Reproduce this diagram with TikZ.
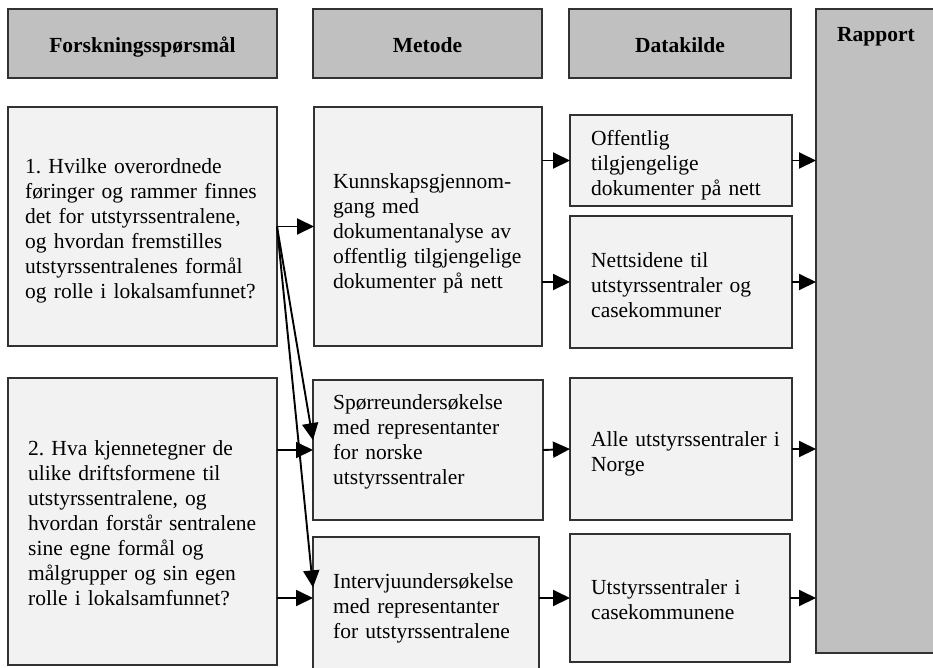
\documentclass[tikz,border=0pt]{standalone}
\usepackage{fontspec}
\setmainfont{Liberation Serif}
\usetikzlibrary{arrows.meta,calc}
\definecolor{hdr}{RGB}{192,192,192}
\definecolor{cell}{RGB}{242,242,242}
\definecolor{edge}{RGB}{50,50,50}
\frenchspacing
\begin{document}
\frenchspacing
\begin{tikzpicture}[x=1pt,y=-1pt,
  box/.style={draw=edge,line width=1.4pt,inner sep=0pt,outer sep=0pt,anchor=north west},
  hbox/.style={box,fill=hdr},
  cbox/.style={box,fill=cell},
  txt/.style={anchor=base west,align=left,text width=280pt,inner sep=0pt,font=\fontsize{21.5}{25}\selectfont},
  htxt/.style={inner sep=0pt,anchor=base,font=\fontsize{21.5}{25}\selectfont\bfseries},
  arr/.style={line width=1.9pt,-{Triangle[length=17pt,width=16pt]}}]
\useasboundingbox (0,0) rectangle (933,667);
\clip (0,0) rectangle (933,667);
% header boxes
\node[hbox,minimum width=269pt,minimum height=69pt] (h1) at (8,9) {};
\node[hbox,minimum width=229pt,minimum height=69pt] (h2) at (313,9) {};
\node[hbox,minimum width=222pt,minimum height=69pt] (h3) at (569,9) {};
\node[hbox,minimum width=140pt,minimum height=644pt] (rap) at (816,9) {};
\node[htxt] (h1t) at (142.5,52) {Forskningsspørsmål};
\node[htxt] (h2t) at (427.5,52) {Metode};
\node[htxt] (h3t) at (680,52) {Datakilde};
\node[htxt] (rapt) at (876,41) {Rapport};
% content boxes
\node[cbox,minimum width=269pt,minimum height=239pt] (q1) at (8,107) {};
\node[cbox,minimum width=269pt,minimum height=287pt] (q2) at (8,378) {};
\node[cbox,minimum width=228pt,minimum height=239pt] (m1) at (314,107) {};
\node[cbox,minimum width=230pt,minimum height=140pt] (m2) at (313,380) {};
\node[cbox,minimum width=226pt,minimum height=140pt] (m3) at (313,537) {};
\node[cbox,minimum width=222pt,minimum height=91pt] (d1) at (570,115) {};
\node[cbox,minimum width=222pt,minimum height=132pt] (d2) at (570,216) {};
\node[cbox,minimum width=222pt,minimum height=142pt] (d3) at (570,378) {};
\node[cbox,minimum width=220pt,minimum height=128pt] (d4) at (570,534) {};
% texts
\node[txt] (q1t) at (25,173) {1. Hvilke overordnede\\føringer og rammer finnes\\det for utstyrssentralene,\\og hvordan fremstilles\\utstyrssentralenes formål\\og rolle i lokalsamfunnet?};
\node[txt] (q2t) at (28,455) {2. Hva kjennetegner de\\ulike driftsformene til\\utstyrssentralene, og\\hvordan forstår sentralene\\sine egne formål og\\målgrupper og sin egen\\rolle i lokalsamfunnet?};
\node[txt] (m1t) at (333,188) {Kunnskapsgjennom-\\gang med\\dokumentanalyse av\\offentlig tilgjengelige\\dokumenter på nett};
\node[txt] (m2t) at (333,409) {Spørreundersøkelse\\med representanter\\for norske\\utstyrssentraler};
\node[txt] (m3t) at (333,588) {Intervjuundersøkelse\\med representanter\\for utstyrssentralene};
\node[txt] (d1t) at (591,145) {Offentlig\\tilgjengelige\\dokumenter på nett};
\node[txt] (d2t) at (591,267) {Nettsidene til\\utstyrssentraler og\\casekommuner};
\node[txt] (d3t) at (591,446) {Alle utstyrssentraler i\\Norge};
\node[txt] (d4t) at (591,594) {Utstyrssentraler i\\casekommunene};
% connectors
\draw[arr] (q1.east) -- (m1.west);
\draw[arr] (q1.east) -- ($(m2.north west)!0.43!(m2.south west)$);
\draw[arr] (q1.east) -- ($(m3.north west)!0.36!(m3.south west)$);
\draw[arr] (q2.east |- m2.west) -- (m2.west);
\draw[arr] (q2.east |- d4.west) -- (m3.west |- d4.west);
\draw[arr] (m1.east |- d1.west) -- (d1.west);
\draw[arr] (m1.east |- d2.west) -- (d2.west);
\draw[arr] (m2.east) -- (d3.west);
\draw[arr] (m3.east |- d4.west) -- (d4.west);
\draw[arr] (d1.east) -- (d1.east -| rap.west);
\draw[arr] (d2.east) -- (d2.east -| rap.west);
\draw[arr] (d3.east) -- (d3.east -| rap.west);
\draw[arr] (d4.east) -- (d4.east -| rap.west);
\end{tikzpicture}
\end{document}
